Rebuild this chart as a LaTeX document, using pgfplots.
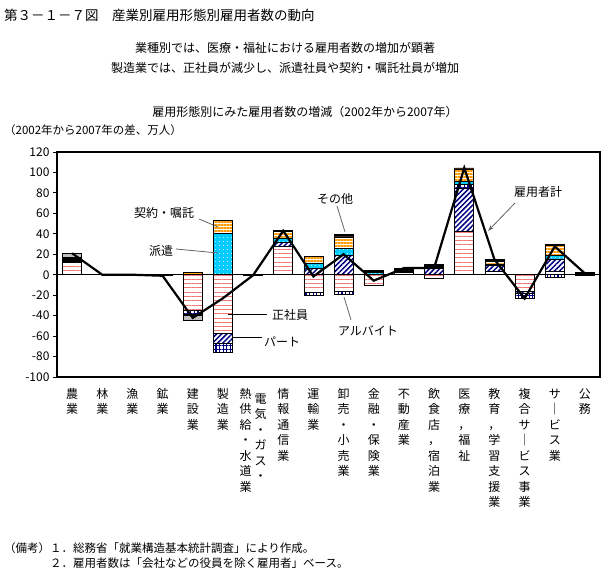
\documentclass[border=0pt]{standalone}
\usepackage{fontspec}
\setmainfont{Noto Sans CJK JP}
\usepackage{pgfplots}
\pgfplotsset{compat=1.18}
\usepackage{pgfplotstable}
\usetikzlibrary{patterns.meta,arrows.meta}

\definecolor{pinkl}{RGB}{240,120,120}
\definecolor{navyc}{RGB}{0,0,128}
\definecolor{cyanc}{RGB}{0,204,255}
\definecolor{orangec}{RGB}{255,153,0}
\definecolor{grayc}{RGB}{192,192,192}
\definecolor{leader}{RGB}{100,100,100}

% S=正社員 P=パート A=アルバイト H=派遣 K=契約・嘱託 O=その他 G=(灰色)
\pgfplotstableread{
x S P A H K O G
0 12 0 0 0 0 5 4
1 0 0 0 0 0 0 0
2 0 0 0 0 0 0 0
3 0 0 0 0 0 0 0
4 0 0 0 0 2 0 0
5 0 0 0 40 13 0 0
6 0 0 0 0 0 0.5 0
7 27.5 4.5 0 4 6 1 0
8 0 6 0 5.5 6.5 0 0
9 0 19 0 7 11 2.5 0
10 0 0 0 2 0 2.2 0
11 2 0 0 0 0 4.5 0
12 0 6.5 0 0 0 3.3 0
13 42.5 41.5 4 3.5 12 1 0
14 3.3 5.5 1.7 0 2.2 2.3 0
15 0 0 0 0 0 0 0
16 3 12.5 0 3.5 10 1 0
17 0 0 0 0 0 2.3 0
}\pos

\pgfplotstableread{
x S P A H K O G
0 0 0 0 0 0 0 0
1 0 0 0 0 0 0 0
2 0 0 0 0 0 0 0
3 -1 0 0 0 0 0 0
4 -35 0 -3.3 0 0 -1.3 -4.6
5 -57 -10 -9 0 0 0 0
6 -1 0 0 0 0 0 0
7 0 0 0 0 0 0 0
8 -17.5 0 -2.2 0 0 0 0
9 -16.5 0 -3 0 0 0 0
10 -10 0 0 0 0 0 0
11 0 0 0 0 0 0 0
12 -3.3 0 0 0 0 0 0
13 0 0 0 0 0 0 0
14 0 0 0 0 0 0 0
15 -16 -2.3 -5 0 0 0 0
16 0 0 -2.3 0 0 0 0
17 -1 0 0 0 0 0 0
}\negv

% 雇用者計
\pgfplotstableread{
x T
0 21
1 0
2 0
3 -1
4 -42.2
5 -23
6 -0.5
7 43
8 -1.7
9 20
10 -5.8
11 6.5
12 6.5
13 104.5
14 15
15 -23.3
16 27.7
17 1.3
}\tot

\newcommand{\vt}[1]{\begin{tabular}[t]{@{}c@{}}#1\end{tabular}}
\newcommand{\lA}{\vt{農\\業}}
\newcommand{\lB}{\vt{林\\業}}
\newcommand{\lC}{\vt{漁\\業}}
\newcommand{\lD}{\vt{鉱\\業}}
\newcommand{\lE}{\vt{建\\設\\業}}
\newcommand{\lF}{\vt{製\\造\\業}}
\newcommand{\lG}{\vt{熱\\供\\給\\・\\水\\道\\業}\hspace{3pt}\raisebox{-5pt}{\vt{電\\気\\・\\ガ\\ス\\・}}}
\newcommand{\lH}{\vt{情\\報\\通\\信\\業}}
\newcommand{\lI}{\vt{運\\輸\\業}}
\newcommand{\lJ}{\vt{卸\\売\\・\\小\\売\\業}}
\newcommand{\lK}{\vt{金\\融\\・\\保\\険\\業}}
\newcommand{\lL}{\vt{不\\動\\産\\業}}
\newcommand{\lM}{\vt{飲\\食\\店\\，\\宿\\泊\\業}}
\newcommand{\lN}{\vt{医\\療\\，\\福\\祉}}
\newcommand{\lO}{\vt{教\\育\\，\\学\\習\\支\\援\\業}}
\newcommand{\lP}{\vt{複\\合\\サ\\｜\\ビ\\ス\\事\\業}}
\newcommand{\lQ}{\vt{サ\\｜\\ビ\\ス\\業}}
\newcommand{\lR}{\vt{公\\務}}

\pgfplotsset{
  common/.style={
    at={(57pt,199pt)}, anchor=south west,
    scale only axis, width=543pt, height=225pt,
    xmin=-0.5, xmax=17.5, ymin=-100, ymax=120,
  },
  sS/.style={draw=black, line width=0.7pt, fill=white, postaction={pattern color=pinkl, pattern={Lines[angle=0,distance=4.3pt,line width=0.9pt]}}},
  sP/.style={draw=black, line width=0.7pt, fill=white, postaction={pattern color=navyc, pattern={Lines[angle=45,distance=3.6pt,line width=1.5pt]}}},
  sA/.style={draw=black, line width=0.7pt, fill=white, postaction={pattern color=navyc, pattern={Hatch[angle=0,distance=3.6pt,line width=1.1pt]}}},
  sH/.style={draw=black, line width=0.7pt, fill=cyanc, postaction={pattern color=white, pattern={Dots[distance=4pt,radius=0.6pt]}}},
  sK/.style={draw=black, line width=0.7pt, fill=white, postaction={pattern color=orangec, pattern={Lines[angle=0,distance=3pt,line width=1.5pt]}}},
  sO/.style={draw=black, line width=0.7pt, fill=black},
  sG/.style={draw=black, line width=0.7pt, fill=grayc},
}

\begin{document}
\begin{tikzpicture}
\useasboundingbox (0pt,0pt) rectangle (609pt,576pt);

% positive stack + frame
\begin{axis}[common,
  ybar stacked, bar width=19pt,
  axis line style={line width=2pt},
  ytick={-100,-80,...,120},
  ytick pos=left, tick align=outside, major tick length=4pt,
  ytick style={black, line width=1pt},
  xtick={0,...,17}, xtick style={draw=none},
  xticklabels={\lA,\lB,\lC,\lD,\lE,\lF,\lG,\lH,\lI,\lJ,\lK,\lL,\lM,\lN,\lO,\lP,\lQ,\lR},
  xticklabel style={font=\fontsize{12}{15.5}\selectfont, anchor=north, inner sep=0pt, yshift=-6pt},
  yticklabel style={font=\fontsize{12}{14}\selectfont},
  /pgf/number format/assume math mode=true,
]
\addplot[sS] table[x=x,y=S]{\pos};
\addplot[sP] table[x=x,y=P]{\pos};
\addplot[sA] table[x=x,y=A]{\pos};
\addplot[sH] table[x=x,y=H]{\pos};
\addplot[sK] table[x=x,y=K]{\pos};
\addplot[sO] table[x=x,y=O]{\pos};
\addplot[sG] table[x=x,y=G]{\pos};
\end{axis}

% negative stack
\begin{axis}[common, hide axis, ybar stacked, bar width=19pt]
\addplot[sS] table[x=x,y=S]{\negv};
\addplot[sP] table[x=x,y=P]{\negv};
\addplot[sA] table[x=x,y=A]{\negv};
\addplot[sH] table[x=x,y=H]{\negv};
\addplot[sK] table[x=x,y=K]{\negv};
\addplot[sO] table[x=x,y=O]{\negv};
\addplot[sG] table[x=x,y=G]{\negv};
\end{axis}

% zero line and total line
\begin{axis}[common, hide axis]
\draw[black, line width=0.9pt] (axis cs:-0.5,0) -- (axis cs:17.5,0);
\addplot[black, line width=2.2pt, no marks, sharp plot] table[x=x,y=T]{\tot};
\end{axis}

% titles
\node[anchor=west, inner sep=0pt, font=\fontsize{13.5}{16}\selectfont] at (4pt,561pt) {第３－１－７図　産業別雇用形態別雇用者数の動向};
\node[inner sep=0pt, font=\fontsize{12}{14}\selectfont] at (285pt,528pt) {業種別では、医療・福祉における雇用者数の増加が顕著};
\node[inner sep=0pt, font=\fontsize{12}{14}\selectfont] at (285pt,508pt) {製造業では、正社員が減少し、派遣社員や契約・嘱託社員が増加};
\node[inner sep=0pt, font=\fontsize{12}{14}\selectfont] at (305pt,464pt) {雇用形態別にみた雇用者数の増減（2002年から2007年）};
\node[anchor=west, inner sep=0pt, font=\fontsize{11.5}{14}\selectfont] at (4pt,446pt) {（2002年から2007年の差、万人）};

% annotations
\begin{scope}[font=\fontsize{12}{14}\selectfont]
\node[inner sep=0pt] at (164pt,363pt) {契約・嘱託};
\draw[leader, line width=0.8pt] (199pt,357pt) -- (218pt,349pt);
\node[inner sep=0pt] at (161pt,325pt) {派遣};
\draw[leader, line width=0.8pt] (176pt,327pt) -- (218pt,323pt);
\node[inner sep=0pt] at (335pt,377pt) {その他};
\draw[leader, line width=0.8pt] (337pt,370pt) -- (345pt,344pt);
\node[inner sep=0pt] at (290pt,261pt) {正社員};
\draw[black, line width=0.8pt] (228pt,261.5pt) -- (267pt,261.5pt);
\node[inner sep=0pt] at (282pt,234pt) {パート};
\draw[black, line width=0.8pt] (233pt,238.3pt) -- (262pt,238.3pt);
\node[inner sep=0pt] at (368pt,245pt) {アルバイト};
\draw[leader, line width=0.8pt] (344pt,279pt) -- (351pt,256pt);
\node[inner sep=0pt] at (538pt,384pt) {雇用者計};
\draw[leader, line width=0.8pt, -{Stealth[length=6pt,width=4pt]}] (515pt,373pt) -- (488pt,345pt);
\end{scope}

% notes
\node[anchor=west, inner sep=0pt, font=\fontsize{11.5}{14}\selectfont] at (4pt,28pt) {（備考）１．総務省「就業構造基本統計調査」により作成。};
\node[anchor=west, inner sep=0pt, font=\fontsize{11.5}{14}\selectfont] at (4pt,13pt) {\phantom{（備考）}２．雇用者数は「会社などの役員を除く雇用者」ベース。};
\end{tikzpicture}
\end{document}
